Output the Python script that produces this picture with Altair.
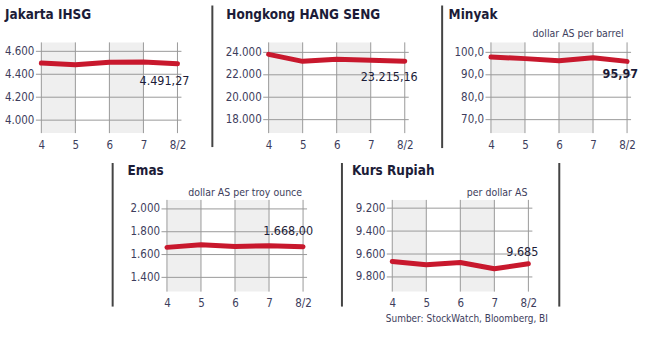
import altair as alt
import pandas as pd

FONT = "DejaVu Sans Condensed, Liberation Sans, sans-serif"

days = ["4", "5", "6", "7", "8/2"]
day_pos = [4, 5, 6, 7, 8]
shade_start = [4, 6]
shade_end = [5, 7]

jakarta = [4498, 4484, 4504, 4507, 4491.27]
hangseng = [23822, 23200, 23378, 23289, 23215.16]
minyak = [97.9, 97.2, 96.3, 97.6, 95.97]
emas = [1663, 1686, 1671, 1677, 1668.00]
rupiah = [9665, 9694, 9674, 9729, 9685]

jakarta_ticks = [4000, 4200, 4400, 4600]
jakarta_labels = ["4.000", "4.200", "4.400", "4.600"]
hangseng_ticks = [18000, 20000, 22000, 24000]
hangseng_labels = ["18.000", "20.000", "22.000", "24.000"]
minyak_ticks = [70, 80, 90, 100]
minyak_labels = ["70,0", "80,0", "90,0", "100,0"]
emas_ticks = [1400, 1600, 1800, 2000]
emas_labels = ["1.400", "1.600", "1.800", "2.000"]
rupiah_ticks = [9200, 9400, 9600, 9800]
rupiah_labels = ["9.200", "9.400", "9.600", "9.800"]

W = 146
XDOM = [3.84, 8.117]
RED = "#c8182d"
GRID = "#9a9a9a"
TXT = "#1c1c38"
LAB = "#3d3d5c"


def lookup_expr(vals, labs):
    return ("[" + ",".join("'%s'" % l for l in labs) + "][indexof(["
            + ",".join(str(v) for v in vals) + "], datum.value)]")


def frame_layer(frame):
    return alt.Chart(pd.DataFrame({"k": [0]})).mark_rect(color="white").encode(
        x=alt.value(frame[0]), x2=alt.value(frame[1]),
        y=alt.value(frame[2]), y2=alt.value(frame[3]))


def panel(title, values, ticks, labels, domain, reverse, ann_text, ann_dx, ann_dy,
          ann_bold, title_pos, seps, height, frame, subtitle=None, sub_pos=None, source=None):
    xs = alt.Scale(domain=XDOM, nice=False, zero=False)
    ys = alt.Scale(domain=domain, nice=False, zero=False, reverse=reverse)
    xaxis = alt.Axis(values=day_pos, labelExpr=lookup_expr(day_pos, days), grid=False,
                     domain=False, ticks=False, labelPadding=6, title=None, zindex=1,
                     labelFont=FONT, labelFontSize=11.5, labelColor=LAB)
    yaxis = alt.Axis(values=ticks, labelExpr=lookup_expr(ticks, labels), grid=False,
                     domain=False, ticks=False, labelPadding=2, title=None, zindex=1,
                     labelFont=FONT, labelFontSize=11.5, labelColor=LAB)
    fr = frame_layer(frame)
    bands = alt.Chart(pd.DataFrame({"a": shade_start, "b": shade_end})).mark_rect(
        color="#efefef").encode(
        x=alt.X("a:Q", scale=xs, axis=xaxis), x2="b:Q",
        y=alt.value(0), y2=alt.value(height))
    vr = alt.Chart(pd.DataFrame({"x": day_pos})).mark_rule(
        color=GRID, strokeWidth=1).encode(
        x=alt.X("x:Q", scale=xs, axis=xaxis), y=alt.value(0), y2=alt.value(height))
    hr = alt.Chart(pd.DataFrame({"t": ticks})).mark_rule(
        color=GRID, strokeWidth=1).encode(
        y=alt.Y("t:Q", scale=ys, axis=yaxis), x=alt.value(0), x2=alt.value(W))
    df = pd.DataFrame({"x": day_pos, "v": values})
    line = alt.Chart(df).mark_line(color=RED, strokeWidth=5, strokeCap="round",
                                   strokeJoin="round").encode(
        x=alt.X("x:Q", scale=xs, axis=xaxis), y=alt.Y("v:Q", scale=ys, axis=yaxis))
    ann = alt.Chart(pd.DataFrame({"x": [day_pos[-1]], "v": [values[-1]], "t": [ann_text]})).mark_text(
        align="right", baseline="middle", dx=ann_dx, dy=ann_dy, font=FONT, fontSize=12.5,
        fontWeight="bold" if ann_bold else "normal", color=TXT).encode(
        x=alt.X("x:Q", scale=xs, axis=xaxis), y=alt.Y("v:Q", scale=ys, axis=yaxis), text="t:N")
    ttl = alt.Chart(pd.DataFrame({"t": [title]})).mark_text(
        align="left", baseline="middle", font=FONT, fontSize=13.5, fontWeight="bold",
        color=TXT).encode(x=alt.value(title_pos[0]), y=alt.value(title_pos[1]), text="t:N")
    layers = [fr, bands, vr, hr, line, ann, ttl]
    for s in seps:
        layers.append(alt.Chart(pd.DataFrame({"k": [0]})).mark_rule(
            color="#444444", strokeWidth=2).encode(
            x=alt.value(s[0]), y=alt.value(s[1]), y2=alt.value(s[2])))
    if subtitle:
        layers.append(alt.Chart(pd.DataFrame({"t": [subtitle]})).mark_text(
            align="right", baseline="middle", font=FONT, fontSize=10.5, color=LAB).encode(
            x=alt.value(sub_pos[0]), y=alt.value(sub_pos[1]), text="t:N"))
    if source:
        layers.append(alt.Chart(pd.DataFrame({"t": [source]})).mark_text(
            align="left", baseline="middle", font=FONT, fontSize=10, color=LAB).encode(
            x=alt.value(-1), y=alt.value(119), text="t:N"))
    return alt.layer(*layers).properties(width=W, height=height)


p1 = panel("Jakarta IHSG", jakarta, jakarta_ticks, jakarta_labels, [3887, 4678], False,
           "4.491,27", 12, 17, False, (-31, -27), [], 91, (-36, 176, -42, 118))
p2 = panel("Hongkong HANG SENG", hangseng, hangseng_ticks, hangseng_labels, [16800, 24890], False,
           "23.215,16", 13, 16, False, (-37, -27), [(-51, -37, 105)], 91, (-51.8, 176.2, -42, 118))
p3 = panel("Minyak", minyak, minyak_ticks, minyak_labels, [64.0, 104.44], False,
           "95,97", 11, 13, True, (-37, -27), [(-43.5, -37, 106)], 91, (-45.5, 164.5, -42, 118),
           subtitle="dollar AS per barrel", sub_pos=(138.5, -8))
p4 = panel("Emas", emas, emas_ticks, emas_labels, [1275, 2079], False,
           "1.668,00", 10, -16, False, (-34, -29), [(-49, -37, 107)], 92, (-49.2, 178.8, -40, 138),
           subtitle="dollar AS per troy ounce", sub_pos=(141, -7))
p5 = panel("Kurs Rupiah", rupiah, rupiah_ticks, rupiah_labels, [9128, 9928], True,
           "9.685", 10, -12, False, (-35, -29), [(-45, -37, 107), (173, -37, 107)], 92,
           (-46.2, 263.8, -40, 138),
           subtitle="per dollar AS", sub_pos=(141, -7),
           source="Sumber: StockWatch, Bloomberg, BI")

# empty white cell that holds row 2 in place under row 1
spacer = frame_layer((-36, 76, -40, 138)).properties(width=1, height=92)

row1 = alt.hconcat(p1, p2, p3, spacing=0)
row2 = alt.hconcat(spacer, p4, p5, spacing=0)
chart = alt.concat(row1, row2, columns=1, spacing=0, align="none").properties(
    padding=0,
    background="white",
).configure_view(stroke=None)

chart.save("out.html", embed_options={"renderer": "svg", "actions": False})
